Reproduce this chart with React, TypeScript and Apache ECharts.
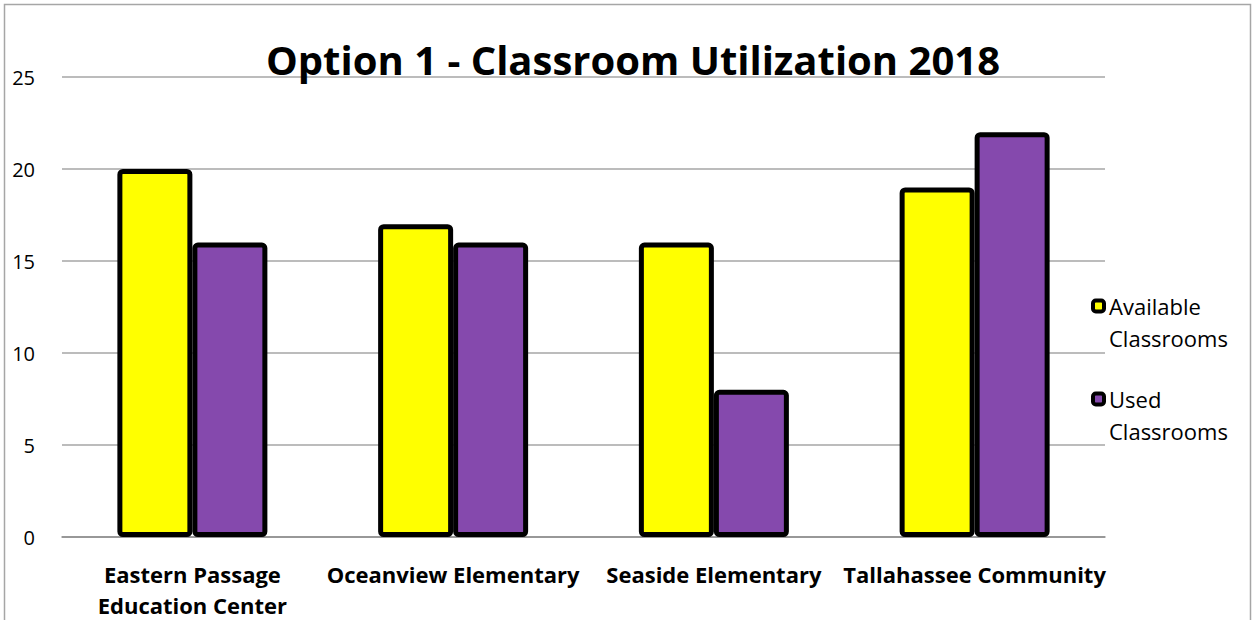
import React, { useEffect, useRef } from "react";
import * as echarts from "echarts";

const categories = [
  "Eastern Passage\nEducation Center",
  "Oceanview Elementary",
  "Seaside Elementary",
  "Tallahassee Community",
];
const available = [20, 17, 16, 19];
const used = [16, 16, 8, 22];
const seriesNames = ["Available Classrooms", "Used Classrooms"];
const yTicks = { min: 0, max: 25, interval: 5 };

export default function App() {
  const ref = useRef<HTMLDivElement>(null);
  useEffect(() => {
    if (!ref.current) return;
    const chart = echarts.init(ref.current, null, { renderer: "svg" });
    const font = "'Open Sans', sans-serif";
    chart.setOption({
      animation: false,
      textStyle: { fontFamily: font, color: "#000" },
      graphic: [
        {
          type: "rect",
          shape: { x: 4.5, y: 4.5, width: 1246, height: 700 },
          style: { fill: "none", stroke: "#a6a6a6", lineWidth: 1.5 },
          silent: true,
        },
      ],
      title: {
        text: "Option 1 - Classroom Utilization 2018",
        left: 628,
        textAlign: "center",
        top: 34,
        textStyle: { fontFamily: font, fontSize: 40, fontWeight: "bold", color: "#000" },
      },
      legend: {
        orient: "vertical",
        left: 1086,
        top: 253,
        itemWidth: 11,
        itemHeight: 11,
        itemGap: -3,
        icon: "roundRect",
        itemStyle: { borderColor: "#000", borderWidth: 4 },
        formatter: (n: string) => " \n" + n.replace(" ", "\n"),
        textStyle: { fontFamily: font, fontSize: 22, color: "#000", lineHeight: 32 },
        data: seriesNames,
      },
      grid: { left: 62, right: 147, top: 77, bottom: 82 },
      xAxis: {
        type: "category",
        data: categories,
        axisLine: { lineStyle: { color: "#8c8c8c", width: 1.5 } },
        axisTick: { show: false },
        axisLabel: {
          fontFamily: font,
          fontSize: 22,
          fontWeight: "bold",
          color: "#000",
          margin: 21,
          lineHeight: 31,
          verticalAlign: "top",
          interval: 0,
        },
      },
      yAxis: {
        type: "value",
        min: yTicks.min,
        max: yTicks.max,
        interval: yTicks.interval,
        axisLine: { show: false },
        axisTick: { show: false },
        splitLine: { lineStyle: { color: "#a6a6a6", width: 1.5 } },
        axisLabel: { fontFamily: font, fontSize: 20, color: "#000", margin: 27 },
      },
      series: [
        {
          name: seriesNames[0],
          type: "bar",
          data: available,
          barWidth: 75,
          barGap: "0%",
          itemStyle: { color: "#ffff00", borderColor: "#000", borderWidth: 5, borderRadius: 3 },
        },
        {
          name: seriesNames[1],
          type: "bar",
          data: used,
          barWidth: 75,
          barGap: "0%",
          itemStyle: { color: "#8549ad", borderColor: "#000", borderWidth: 5, borderRadius: 3 },
        },
      ],
    });
    return () => chart.dispose();
  }, []);
  return (
    <div
      ref={ref}
      style={{ position: "fixed", left: 0, top: 0, width: 1252, height: 620, background: "#fff" }}
    />
  );
}
